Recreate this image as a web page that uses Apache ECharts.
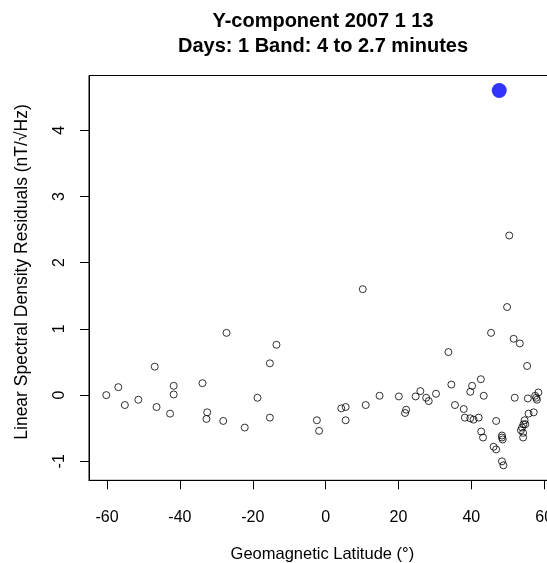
<!DOCTYPE html>
<html>
<head>
<meta charset="utf-8">
<script src="https://cdn.jsdelivr.net/npm/echarts@6/dist/echarts.min.js"></script>
<style>html,body{margin:0;padding:0;background:#fff;overflow:hidden}#c{width:560px;height:563px}</style>
</head>
<body>
<div id="c"></div>
<script>
const titleLines = ["Y-component 2007 1 13", "Days: 1 Band: 4 to 2.7 minutes"];
const xName = "Geomagnetic Latitude (°)";
const yName = "Linear Spectral Density Residuals (nT/\u221AHz)";
const xTicks = [-60, -40, -20, 0, 20, 40, 60];
const yTicks = [-1, 0, 1, 2, 3, 4];

const latitudes = [
  -60.2, -56.9, -55.1, -51.4, -46.9, -46.4, -41.7, -41.7, -42.7, -33.8,
  -32.5, -32.7, -28.1, -27.2, -22.2, -18.7, -15.3, -13.5, -15.3, -2.4,
  -1.8, 10.2, 4.3, 5.5, 5.5, 11.0, 14.8, 20.1, 22.1, 21.8,
  24.7, 26.0, 27.6, 28.3, 30.3, 33.7, 34.5, 35.5, 37.9, 38.2,
  39.7, 40.2, 39.7, 40.6, 42.0, 42.6, 43.4, 42.7, 43.2, 45.4,
  46.8, 46.1, 46.8, 48.4, 48.6, 48.4, 48.4, 48.8, 50.4, 49.8,
  51.6, 53.3, 51.9, 55.3, 55.5, 55.7, 57.1, 54.6, 54.3, 53.9,
  53.6, 54.2, 54.2, 54.8, 57.5, 58.4, 58.0, 57.8
];
const residuals = [
  0.00, 0.12, -0.15, -0.07, 0.43, -0.18, 0.14, 0.01, -0.28, 0.18,
  -0.26, -0.36, -0.39, 0.94, -0.49, -0.04, 0.48, 0.76, -0.34, -0.38,
  -0.54, 1.60, -0.20, -0.18, -0.38, -0.15, -0.01, -0.02, -0.22, -0.27,
  -0.02, 0.06, -0.04, -0.09, 0.02, 0.65, 0.16, -0.15, -0.21, -0.34,
  0.05, 0.14, -0.35, -0.37, -0.34, 0.24, -0.01, -0.55, -0.64, 0.94,
  -0.39, -0.78, -0.82, -0.61, -0.67, -0.64, -1.00, -1.06, 2.41, 1.33,
  0.85, 0.78, -0.04, 0.44, -0.05, -0.28, -0.26, -0.38, -0.44, -0.49,
  -0.53, -0.57, -0.64, -0.44, -0.01, 0.04, -0.07, -0.04
];
const highlightLat = [47.65];
const highlightRes = [4.60];

const allX = latitudes.concat(highlightLat);
const allY = residuals.concat(highlightRes);
function padRange(arr) {
  const lo = Math.min.apply(null, arr), hi = Math.max.apply(null, arr);
  const p = (hi - lo) * 0.04;
  return [lo - p, hi + p];
}
const xr = padRange(allX), yr = padRange(allY);

const FONT = "'Liberation Sans', Arial, sans-serif";
const chart = echarts.init(document.getElementById('c'), null, {renderer: 'canvas'});
chart.setOption({
  animation: false,
  backgroundColor: '#fff',
  graphic: [
    {type: 'text', x: 323, y: 11, style: {text: titleLines[0], font: 'bold 20px ' + FONT, fill: '#000', textAlign: 'center'}},
    {type: 'text', x: 323, y: 36, style: {text: titleLines[1], font: 'bold 20px ' + FONT, fill: '#000', textAlign: 'center'}},
    {type: 'text', x: 22, y: 272, rotation: Math.PI / 2, style: {text: yName, font: '17.5px ' + FONT, fill: '#000', textAlign: 'center', textVerticalAlign: 'middle'}}
  ],
  grid: {left: 89, top: 75.5, width: 466.7, height: 404.8, show: true, borderColor: '#000', borderWidth: 1, backgroundColor: 'transparent', outerBoundsMode: 'none', containLabel: false},
  xAxis: {
    type: 'value', min: xr[0], max: xr[1],
    name: xName, nameLocation: 'middle', nameGap: 66, nameMoveOverlap: false,
    nameTextStyle: {fontFamily: FONT, fontSize: 16.5, color: '#000'},
    axisLine: {show: true, onZero: false, lineStyle: {color: '#000', width: 1}},
    axisTick: {show: true, inside: false, length: 9, customValues: xTicks, lineStyle: {color: '#000'}},
    axisLabel: {show: true, margin: 29, customValues: xTicks, fontFamily: FONT, fontSize: 16, color: '#000', hideOverlap: false},
    splitLine: {show: false}
  },
  yAxis: {
    type: 'value', min: yr[0], max: yr[1],
    axisLine: {show: true, onZero: false, lineStyle: {color: '#000', width: 1}},
    axisTick: {show: true, inside: false, length: 9, customValues: yTicks, lineStyle: {color: '#000'}},
    axisLabel: {show: true, margin: 21, rotate: 90, customValues: yTicks, fontFamily: FONT, fontSize: 16, color: '#000', hideOverlap: false},
    splitLine: {show: false}
  },
  series: [
    {
      type: 'scatter', symbol: 'circle', symbolSize: 7,
      data: latitudes.map((x, i) => [x, residuals[i]]),
      itemStyle: {color: 'rgba(0,0,0,0)', borderColor: '#000', borderWidth: 1},
      emphasis: {disabled: true}, silent: true
    },
    {
      type: 'scatter', symbol: 'circle', symbolSize: 15,
      data: highlightLat.map((x, i) => [x, highlightRes[i]]),
      itemStyle: {color: '#0000ff'},
      emphasis: {disabled: true}, silent: true
    }
  ]
});
</script>
</body>
</html>
